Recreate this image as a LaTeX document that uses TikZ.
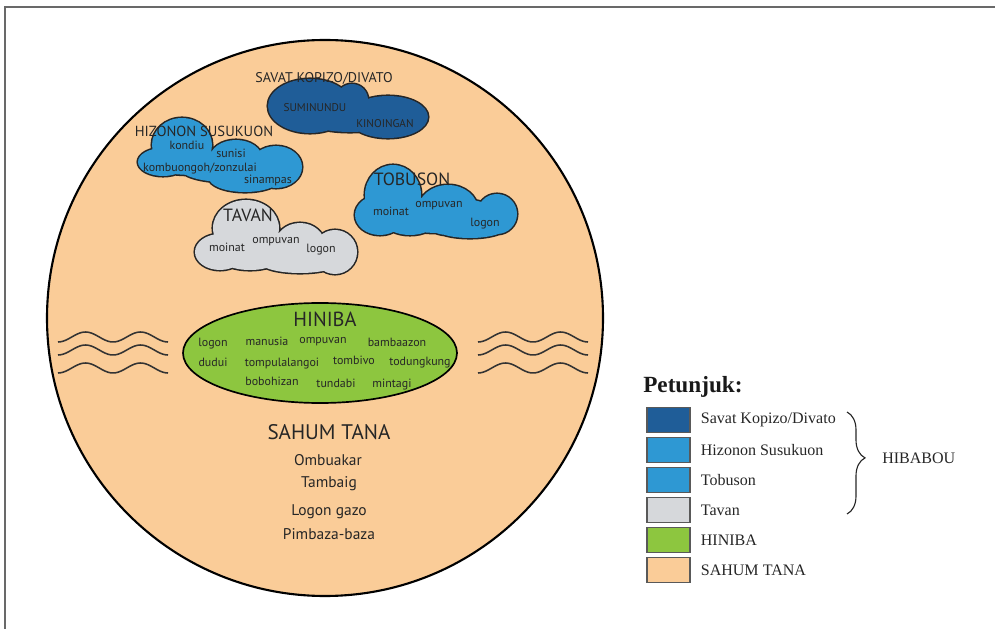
\documentclass[tikz,border=0pt]{standalone}
\usepackage{fontspec}
\setmainfont{Liberation Serif}
\setsansfont{PT Sans}
\usetikzlibrary{positioning}
\usetikzlibrary{decorations.pathreplacing}

\definecolor{tanah}{RGB}{250,204,152}
\definecolor{savatblue}{RGB}{31,93,152}
\definecolor{hizononblue}{RGB}{46,152,211}
\definecolor{tavangray}{RGB}{214,216,219}
\definecolor{hinibagreen}{RGB}{141,198,63}
\definecolor{framegray}{RGB}{105,105,105}

% a cloud is a bunch of puffs: outline first, then fill over the inner lines
\newcommand{\drawcloud}[2]{%
  \draw[cloudedge] #2;
  \fill[#1] #2;
}

\begin{document}
\begin{tikzpicture}[x=0.025cm, y=-0.025cm,
    every node/.style={inner sep=0pt},
    cloudedge/.style={line width=2.2pt, black!85},
    wave/.style={line width=1.1pt, black!80},
    capsans/.style={font=\sffamily\fontsize{#1}{#1}\selectfont, text=black!85, text height=0.7em, text depth=0pt},
    wordsans/.style={font=\sffamily\fontsize{#1}{#1}\selectfont, text=black!85, text height=0.72em, text depth=0.22em},
    keybox/.style={draw=black!65, line width=0.8pt, minimum width=1.075cm, minimum height=0.625cm},
    keytext/.style={font=\fontsize{11.4}{11.4}\selectfont, text=black!85}]

    \useasboundingbox (0,0) rectangle (995,629);

    % frame
    \draw[framegray, line width=1.5pt] (995,7) -- (5,7) -- (5,629);

    % sahum tana and the water
    \draw[fill=tanah, line width=1.5pt] (325,318) circle [radius=278];
    \foreach \xs in {58,478}
        \foreach \ym in {337,350,368}
            \draw[wave] plot[domain=0:110, samples=60, smooth] ({\xs+\x}, {\ym+5*cos(6.545*\x)});

    % hiniba
    \draw[fill=hinibagreen, line width=1.2pt] (320,353) ellipse [x radius=137, y radius=50];

    % clouds of hibabou
    \drawcloud{savatblue}{(310,106) ellipse [x radius=42, y radius=27]
        (388,117) ellipse [x radius=40, y radius=21]
        (352,100) circle [radius=16]
        (350,116) ellipse [x radius=50, y radius=16]}
    \drawcloud{hizononblue}{(182,145) ellipse [x radius=30, y radius=27]
        (163,162) ellipse [x radius=25, y radius=14]
        (196,163) ellipse [x radius=56, y radius=12]
        (236,158) ellipse [x radius=26, y radius=18]
        (276,167) ellipse [x radius=26, y radius=21]
        (245,178) ellipse [x radius=36, y radius=14]
        (225,168) ellipse [x radius=45, y radius=14]}
    \drawcloud{hizononblue}{(393,195) ellipse [x radius=28, y radius=30]
        (380,215) ellipse [x radius=25, y radius=20]
        (410,222) ellipse [x radius=25, y radius=13]
        (448,210) ellipse [x radius=30, y radius=25]
        (497,214) circle [radius=20]
        (470,226) ellipse [x radius=38, y radius=12]
        (440,215) ellipse [x radius=60, y radius=18]}
    \drawcloud{tavangray}{(246,228) ellipse [x radius=33, y radius=28]
        (220,252) ellipse [x radius=25, y radius=18]
        (250,258) ellipse [x radius=30, y radius=12]
        (300,245) ellipse [x radius=25, y radius=22]
        (335,252) circle [radius=22]
        (300,262) ellipse [x radius=40, y radius=11]
        (280,250) ellipse [x radius=55, y radius=17]}

    % savat kopizo/divato
    \node[capsans=10] (savat) at (324,78) {SAVAT KOPIZO/DIVATO};
    \node[capsans=8] (suminundu) at (315,107) {SUMINUNDU};
    \node[capsans=8] (kinoingan) at (385,123) {KINOINGAN};

    % hizonon susukuon
    \node[capsans=10.4] (hizonon) at (204,132) {HIZONON SUSUKUON};
    \node[wordsans=8.5] (kondiu) at (187,146) {kondiu};
    \node[wordsans=8.5] (sunisi) at (231,154) {sunisi};
    \node[wordsans=8.5] (kombuongoh) at (200,168) {kombuongoh/zonzulai};
    \node[wordsans=8.5] (sinampas) at (268,180) {sinampas};

    % tobuson
    \node[capsans=12.6] (tobuson) at (412,181) {TOBUSON};
    \node[wordsans=8.5] (tobmoinat) at (391,212) {moinat};
    \node[wordsans=8.5] (tobompuvan) at (439,204) {ompuvan};
    \node[wordsans=8.5] (toblogon) at (485,223) {logon};

    % tavan
    \node[capsans=12.6] (tavan) at (248,217) {TAVAN};
    \node[wordsans=8.5] (tavmoinat) at (227,248) {moinat};
    \node[wordsans=8.5] (tavompuvan) at (276,240) {ompuvan};
    \node[wordsans=8.5] (tavlogon) at (321,249) {logon};

    % hiniba
    \node[capsans=14.5] (hiniba) at (325,322) {HINIBA};
    \node[wordsans=8.5] (hlogon) at (213,343) {logon};
    \node[wordsans=8.5] (manusia) at (267,342) {manusia};
    \node[wordsans=8.5] (hompuvan) at (323,340) {ompuvan};
    \node[wordsans=8.5] (bambaazon) at (397,343) {bambaazon};
    \node[wordsans=8.5] (dudui) at (213,363) {dudui};
    \node[wordsans=8.5] (tompulalangoi) at (282,363) {tompulalangoi};
    \node[wordsans=8.5] (tombivo) at (354,361) {tombivo};
    \node[wordsans=8.5] (todungkung) at (420,362) {todungkung};
    \node[wordsans=8.5] (bobohizan) at (272,382) {bobohizan};
    \node[wordsans=8.5] (tundabi) at (336,384) {tundabi};
    \node[wordsans=8.5] (mintagi) at (392,384) {mintagi};

    % sahum tana
    \node[capsans=15] (sahum) at (329,435) {SAHUM TANA};
    \node[wordsans=11] (ombuakar) at (328,462) {Ombuakar};
    \node[wordsans=11] (tambaig) at (329,484) {Tambaig};
    \node[wordsans=11] (logongazo) at (329,512) {Logon gazo};
    \node[wordsans=11] (pimbaza) at (329,536) {Pimbaza-baza};

    % petunjuk
    \node[anchor=west, font=\bfseries\fontsize{16.5}{16.5}\selectfont, text=black!90] (petunjuk) at (643,387) {Petunjuk:};
    \foreach \c/\t [count=\i] in {savatblue/{Savat Kopizo/Divato}, hizononblue/{Hizonon Susukuon},
        hizononblue/Tobuson, tavangray/Tavan, hinibagreen/HINIBA, tanah/{SAHUM TANA}}
    {
        \node[keybox, fill=\c] (key\i) at (668.5,{390+30*\i}) {};
        \node[keytext, right=0.25cm of key\i] (keylabel\i) {\t};
    }
    \coordinate (bracetop) at (847,412);
    \coordinate (bracebot) at (847,514);
    \draw[decorate, decoration={brace, amplitude=0.45cm, aspect=0.45}, line width=0.8pt, black!85] (bracetop) -- (bracebot);
    \node[keytext, anchor=west] (hibabou) at (882,458) {HIBABOU};

\end{tikzpicture}
\end{document}
